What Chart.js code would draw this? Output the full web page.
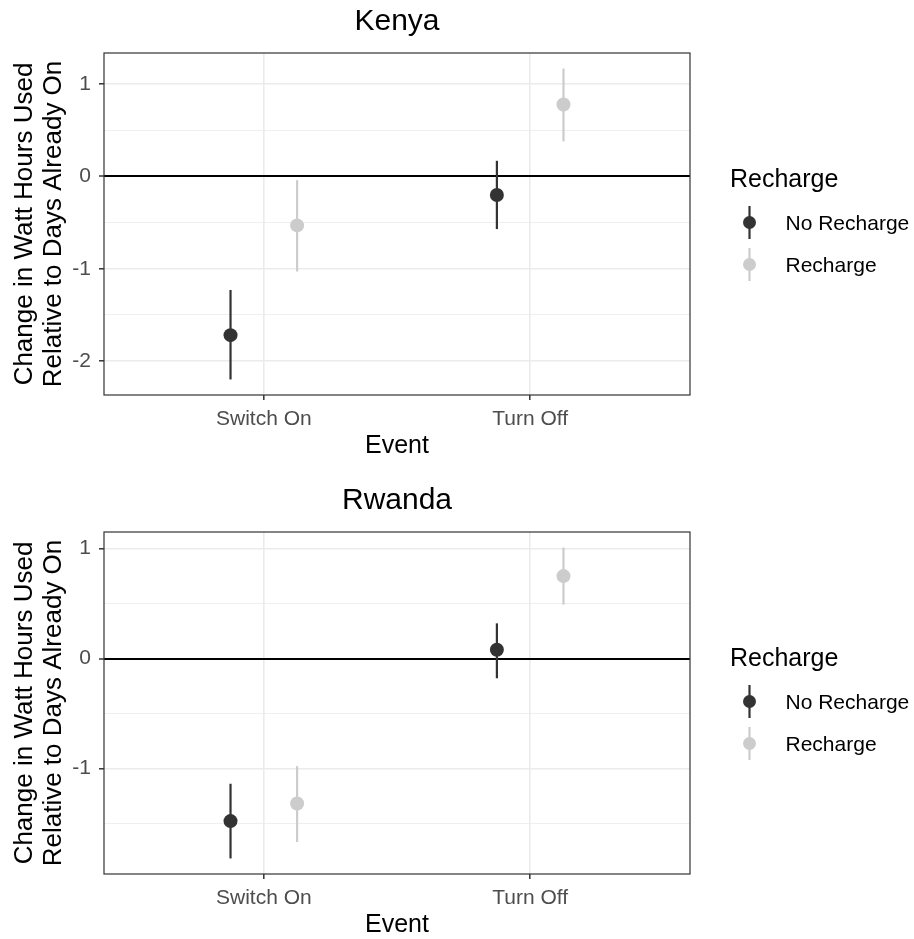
<!DOCTYPE html>
<html>
<head>
<meta charset="utf-8">
<script src="https://cdn.jsdelivr.net/npm/chart.js@4.4.1/dist/chart.umd.min.js"></script>
<style>
body { margin: 0; background: #fff; overflow: hidden; }
canvas { display: block; }
</style>
</head>
<body>
<canvas id="kenya-chart" width="914" height="479"></canvas>
<canvas id="rwanda-chart" width="914" height="479"></canvas>
<script>
const events = ['Switch On', 'Turn Off']
const groups = ['No Recharge', 'Recharge']
const groupColors = ['#333333', '#CCCCCC']
const legendTitle = 'Recharge'
const xTitle = 'Event'
const yTitle = ['Change in Watt Hours Used', 'Relative to Days Already On']

const kenyaNoRecharge = [-1.72, -0.20]
const kenyaNoRechargeLow = [-2.20, -0.57]
const kenyaNoRechargeHigh = [-1.23, 0.17]
const kenyaRecharge = [-0.53, 0.78]
const kenyaRechargeLow = [-1.03, 0.38]
const kenyaRechargeHigh = [-0.04, 1.17]

const rwandaNoRecharge = [-1.48, 0.08]
const rwandaNoRechargeLow = [-1.82, -0.18]
const rwandaNoRechargeHigh = [-1.14, 0.32]
const rwandaRecharge = [-1.32, 0.75]
const rwandaRechargeLow = [-1.67, 0.49]
const rwandaRechargeHigh = [-0.98, 1.01]

const dodgeWidth = 0.25
const fontFamily = "'Liberation Sans', Arial, sans-serif"
Chart.defaults.font.family = fontFamily

const errorBars = {
    id: 'errorBars',
    beforeDatasetsDraw(chart) {
        const ctx = chart.ctx
        const y = chart.scales.y
        chart.data.datasets.forEach((ds, i) => {
            const meta = chart.getDatasetMeta(i)
            ctx.save()
            ctx.strokeStyle = ds.backgroundColor
            ctx.lineWidth = 2.2
            meta.data.forEach((pt, j) => {
                ctx.beginPath()
                ctx.moveTo(pt.x, y.getPixelForValue(ds.low[j]))
                ctx.lineTo(pt.x, y.getPixelForValue(ds.high[j]))
                ctx.stroke()
            })
            ctx.restore()
        })
    }
}

const panelAndLegend = {
    id: 'panelAndLegend',
    afterDraw(chart) {
        const ctx = chart.ctx
        const a = chart.chartArea
        ctx.save()
        ctx.strokeStyle = '#333333'
        ctx.lineWidth = 1.2
        ctx.strokeRect(a.left, a.top, a.right - a.left, a.bottom - a.top)

        const x0 = a.right + 40
        ctx.textBaseline = 'alphabetic'
        ctx.textAlign = 'left'
        ctx.fillStyle = '#000000'
        ctx.font = '25px ' + fontFamily
        ctx.fillText(legendTitle, x0, a.top + 133.5)
        chart.data.datasets.forEach((ds, i) => {
            const cx = x0 + 19.5
            const cy = a.top + 169.5 + i * 42
            ctx.strokeStyle = ds.backgroundColor
            ctx.lineWidth = 2.2
            ctx.beginPath()
            ctx.moveTo(cx, cy - 16.5)
            ctx.lineTo(cx, cy + 16.5)
            ctx.stroke()
            ctx.fillStyle = ds.backgroundColor
            ctx.beginPath()
            ctx.arc(cx, cy, 6.5, 0, Math.PI * 2)
            ctx.fill()
            ctx.fillStyle = '#000000'
            ctx.font = '21px ' + fontFamily
            ctx.fillText(ds.label, x0 + 55.5, cy + 7.5)
        })
        ctx.restore()
    }
}

function isMajor(c) {
    return c.tick && Number.isInteger(c.tick.value)
}

function makeChart(id, title, series) {
    // ggplot style limits: 5% padding on y, 0.6 on the discrete x axis
    const all = series.flatMap(s => s.low.concat(s.high))
    const lo = Math.min(...all)
    const hi = Math.max(...all)
    const pad = (hi - lo) * 0.05

    const datasets = series.map((s, g) => ({
        label: groups[g],
        data: s.values.map((v, i) => ({x: i + 1 + (g - 0.5) * dodgeWidth, y: v})),
        low: s.low,
        high: s.high,
        backgroundColor: groupColors[g],
        borderWidth: 0,
        pointRadius: 7,
        pointHoverRadius: 7,
    }))

    const config = {
        type: 'scatter',
        data: {datasets: datasets},
        options: {
            responsive: false,
            animation: false,
            devicePixelRatio: 1,
            layout: {padding: {left: 0, right: 224, top: 0, bottom: 0}},
            plugins: {
                legend: {display: false},
                tooltip: {enabled: false},
                title: {
                    display: true,
                    text: title,
                    fullSize: false,
                    color: '#000000',
                    font: {size: 30, weight: 'normal', lineHeight: 1.2},
                    padding: {top: 4, bottom: 13},
                }
            },
            scales: {
                x: {
                    type: 'linear',
                    min: 1 - 0.6,
                    max: events.length + 0.6,
                    afterFit(scale) { scale.height = 84 },
                    border: {display: false},
                    grid: {z: -2, color: '#EBEBEB', lineWidth: 1.6, tickColor: '#333333', tickLength: 5, tickWidth: 1.5},
                    ticks: {
                        stepSize: 1,
                        includeBounds: false,
                        autoSkip: false,
                        maxRotation: 0,
                        padding: 7,
                        color: '#4D4D4D',
                        font: {size: 21},
                        callback: v => events[v - 1],
                    },
                    title: {display: true, text: xTitle, color: '#000000', font: {size: 25, lineHeight: 1.2}, padding: {top: 0, bottom: 17.75}},
                },
                y: {
                    min: lo - pad,
                    max: hi + pad,
                    afterFit(scale) { scale.width = 104 },
                    border: {display: false},
                    grid: {
                        z: -1,
                        color: c => (c.tick && c.tick.value === 0) ? '#000000' : '#EBEBEB',
                        lineWidth: c => (c.tick && c.tick.value === 0) ? 2 : (isMajor(c) ? 1.6 : 0.8),
                        tickColor: c => isMajor(c) ? '#333333' : 'rgba(0,0,0,0)',
                        tickLength: 5,
                        tickWidth: 1.5,
                    },
                    ticks: {
                        stepSize: 0.5,
                        includeBounds: false,
                        padding: 8,
                        color: '#4D4D4D',
                        font: {size: 21},
                        callback: v => Number.isInteger(v) ? v : '',
                    },
                    title: {display: true, text: yTitle, color: '#000000', font: {size: 26, lineHeight: 1.13}, padding: {top: 10, bottom: 0}},
                }
            }
        },
        plugins: [errorBars, panelAndLegend],
    }
    return new Chart(document.getElementById(id).getContext('2d'), config)
}

const kenya_chart = makeChart('kenya-chart', 'Kenya', [
    {values: kenyaNoRecharge, low: kenyaNoRechargeLow, high: kenyaNoRechargeHigh},
    {values: kenyaRecharge, low: kenyaRechargeLow, high: kenyaRechargeHigh},
])
const rwanda_chart = makeChart('rwanda-chart', 'Rwanda', [
    {values: rwandaNoRecharge, low: rwandaNoRechargeLow, high: rwandaNoRechargeHigh},
    {values: rwandaRecharge, low: rwandaRechargeLow, high: rwandaRechargeHigh},
])
</script>
</body>
</html>
